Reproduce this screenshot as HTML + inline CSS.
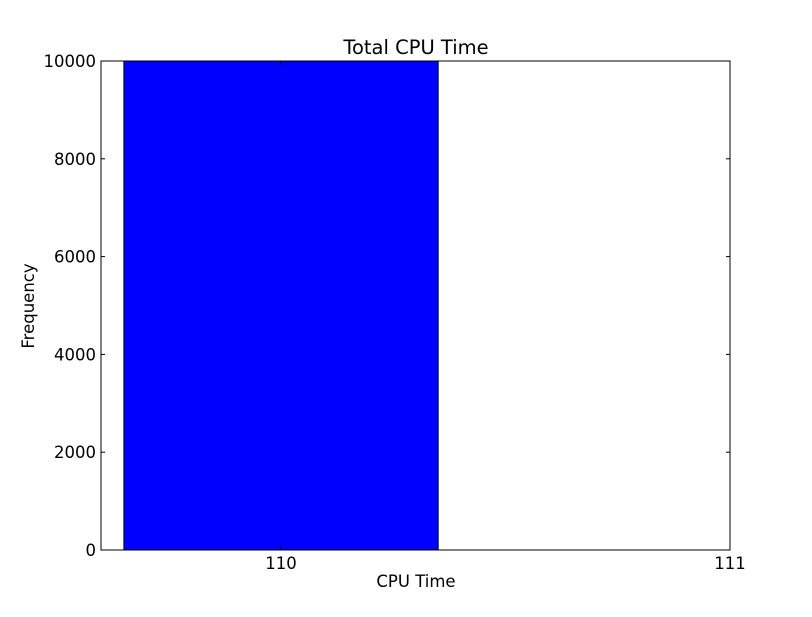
<!DOCTYPE html>
<html><head><meta charset="utf-8"><style>
body{margin:0;background:#fff;}
svg text{font-family:"DejaVu Sans","Liberation Sans",sans-serif;}
</style></head><body>
<svg id="chart" width="812" height="612" xmlns="http://www.w3.org/2000/svg">
<rect width="812" height="612" fill="#fff"/>
<g id="bars"></g>
<rect x="101" y="61" width="629" height="489" fill="none" stroke="#000" stroke-width="1"/>
<g id="ticks"></g>
<text x="416" y="54" font-size="19.5" text-anchor="middle">Total CPU Time</text>
<text x="416" y="587" font-size="16.5" text-anchor="middle">CPU Time</text>
<text x="34" y="306" font-size="16.5" text-anchor="middle" transform="rotate(-90 34 306)">Frequency</text>
</svg>
<script>
const binStarts=[109.65];
const binEnds=[110.35];
const counts=[10000];
const xTicks=[110,111];
const yTicks=[0,2000,4000,6000,8000,10000];
const X0=101,X1=730,Y0=550,Y1=61;
const xMin=109.599,xMax=111,yMin=0,yMax=10000;
const sx=v=>X0+(v-xMin)/(xMax-xMin)*(X1-X0);
const sy=v=>Y0-(v-yMin)/(yMax-yMin)*(Y0-Y1);
const NS="http://www.w3.org/2000/svg";
const bars=document.getElementById('bars'),tk=document.getElementById('ticks');
function mk(t,a,p){const e=document.createElementNS(NS,t);for(const k in a)e.setAttribute(k,a[k]);p.appendChild(e);return e;}
counts.forEach((c,i)=>{
 const r=mk('rect',{x:sx(binStarts[i]),y:sy(c),width:sx(binEnds[i])-sx(binStarts[i]),height:sy(0)-sy(c),fill:'#0000ff',stroke:'#000','stroke-width':1},bars);
 
 
});
xTicks.forEach(v=>{
 const x=sx(v);
 mk('line',{x1:x,x2:x,y1:Y0,y2:Y0-4,stroke:'#000'},tk);
 mk('line',{x1:x,x2:x,y1:Y1,y2:Y1+4,stroke:'#000'},tk);
 const t=mk('text',{x:x,y:Y0+19,'font-size':16.5,'text-anchor':'middle'},tk);
 t.textContent=v;
 
 
});
yTicks.forEach(v=>{
 const y=sy(v);
 mk('line',{x1:X0,x2:X0+4,y1:y,y2:y,stroke:'#000'},tk);
 mk('line',{x1:X1,x2:X1-4,y1:y,y2:y,stroke:'#000'},tk);
 const t=mk('text',{x:X0-5,y:y+6,'font-size':16.5,'text-anchor':'end'},tk);
 t.textContent=v;
 
 
});
</script>
</body></html>
